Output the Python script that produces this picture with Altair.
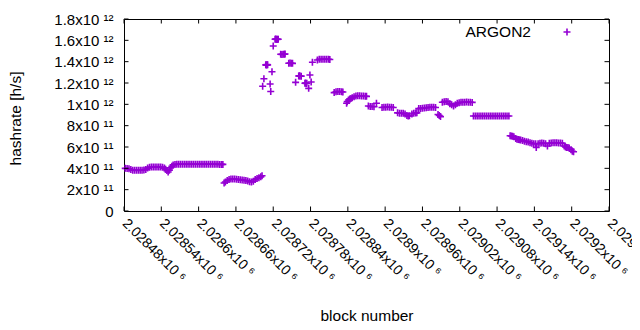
import altair as alt
import pandas as pd

# ---------------- data ----------------
BLOCK_BASE = 2028480
SERIES = ["ARGON2"]

BLOCK_OFFSETS = [
    2, 5, 8, 11, 14, 17, 20, 23, 26, 29, 32, 35,
    38, 41, 44, 47, 50, 53, 56, 59, 62, 65, 67, 69,
    71, 73, 75, 77, 79, 82, 85, 88, 91, 94, 97, 100,
    103, 106, 109, 112, 115, 118, 121, 124, 127, 130, 133, 136,
    139, 142, 145, 148, 151, 154, 157, 159,
    161, 163, 166, 169, 172, 175, 178, 181, 184, 187, 190,
    193, 196, 199, 202, 205, 208, 211, 214, 217, 220, 222,
    223, 225, 228, 229, 230, 231, 235, 236, 238, 240,
    243, 244, 245, 246, 247, 248, 252, 254, 256, 258, 259,
    265, 267, 269, 271, 276, 281, 282, 283, 285,
    291, 292, 293, 294, 297, 299, 301, 303,
    311, 314, 317, 320, 323, 326, 329, 331,
    338, 341, 344, 347, 350, 352,
    358, 359, 361, 363, 365, 367,
    370, 373, 376, 379, 382, 385, 388, 390,
    393, 396, 399, 402, 406,
    415, 418, 421, 424, 427, 430, 433,
    440, 443, 446, 449, 452, 455, 457, 459, 463, 466, 469, 471,
    474, 477, 480, 483, 486, 489, 492, 495, 498, 501,
    505, 507, 509,
    512, 515, 518, 521, 524, 527, 530, 533,
    536, 539, 542, 545, 548, 551, 554, 557, 560,
    562, 565, 568, 571, 574, 577, 580, 583, 586, 589,
    592, 595, 598, 601, 604, 607, 610, 613, 616, 619,
    621, 623, 625, 627, 630, 632, 634, 636, 638,
    641, 644, 647, 650, 653, 656, 659, 662, 663,
    666, 669, 672, 675, 678, 681, 684, 687, 690,
    693, 696, 699, 702, 705, 708, 710, 712, 714,
    716, 719, 721, 723,
]

# hashrate in units of 1e11 h/s
HASHRATE_E11 = [
    4.00, 3.98, 3.95, 3.88, 3.83, 3.82, 3.81, 3.82, 3.83, 3.82, 3.84, 3.88,
    4.02, 4.10, 4.12, 4.12, 4.13, 4.12, 4.12, 4.12, 4.10, 4.02, 3.92, 3.80,
    3.65, 3.82, 4.05, 4.20, 4.32, 4.37, 4.38, 4.38, 4.39, 4.38, 4.38, 4.39,
    4.38, 4.38, 4.39, 4.38, 4.38, 4.39, 4.38, 4.38, 4.39, 4.38, 4.38, 4.39,
    4.38, 4.38, 4.39, 4.38, 4.38, 4.37, 4.37, 4.37,
    2.62, 2.72, 2.85, 2.95, 3.00, 3.00, 3.00, 2.98, 2.95, 2.92, 2.90,
    2.88, 2.86, 2.82, 2.75, 2.72, 2.80, 2.95, 3.05, 3.12, 3.20, 3.30,
    11.70, 12.40, 13.70, 13.68, 13.72, 13.70, 11.90, 11.20, 13.06, 15.47,
    16.10, 16.12, 16.10, 16.08, 16.10, 16.10, 14.70, 14.68, 14.70, 14.70, 14.72,
    13.85, 13.87, 13.85, 13.84, 12.06, 12.66, 12.68, 12.66, 12.64,
    11.97, 11.99, 11.96, 11.97, 11.50, 12.75, 12.10, 13.94,
    14.15, 14.22, 14.22, 14.22, 14.22, 14.22, 14.22, 14.20,
    11.10, 11.18, 11.20, 11.20, 11.18, 11.15,
    10.10, 10.25, 10.40, 10.50, 10.55, 10.62,
    10.70, 10.78, 10.80, 10.80, 10.78, 10.78, 10.76, 10.75,
    9.85, 9.80, 9.80, 9.78, 10.10,
    9.70, 9.72, 9.72, 9.74, 9.72, 9.72, 9.70,
    9.20, 9.16, 9.16, 9.16, 9.10, 8.95, 8.90, 8.92, 9.10, 9.16, 9.18, 9.20,
    9.60, 9.62, 9.63, 9.65, 9.68, 9.70, 9.72, 9.72, 9.72, 9.70,
    9.05, 8.95, 8.85,
    10.20, 10.25, 10.27, 10.25, 10.05, 9.95, 9.85, 9.95,
    10.10, 10.15, 10.20, 10.20, 10.20, 10.22, 10.20, 10.20, 10.18,
    8.90, 8.90, 8.90, 8.90, 8.90, 8.90, 8.90, 8.90, 8.90, 8.90,
    8.90, 8.90, 8.90, 8.90, 8.90, 8.90, 8.90, 8.90, 8.90, 8.90,
    7.05, 7.03, 7.00, 6.95, 6.80, 6.72, 6.70, 6.68, 6.65,
    6.60, 6.55, 6.50, 6.48, 6.40, 6.35, 6.30, 6.30, 5.95,
    6.30, 6.35, 6.38, 6.35, 6.30, 6.10, 6.35, 6.38, 6.40,
    6.40, 6.40, 6.38, 6.38, 6.35, 6.10, 6.00, 5.95, 5.95,
    5.90, 5.75, 5.60, 5.55,
]

X_TICKS = [2028480, 2028540, 2028600, 2028660, 2028720, 2028780, 2028840,
           2028900, 2028960, 2029020, 2029080, 2029140, 2029200, 2029260]
X_TICK_LABELS = ["2.02848x10 ⁶", "2.02854x10 ⁶", "2.0286x10 ⁶", "2.02866x10 ⁶",
                 "2.02872x10 ⁶", "2.02878x10 ⁶", "2.02884x10 ⁶", "2.0289x10 ⁶",
                 "2.02896x10 ⁶", "2.02902x10 ⁶", "2.02908x10 ⁶", "2.02914x10 ⁶",
                 "2.0292x10 ⁶", "2.02926x10 ⁶"]

Y_TICKS = [0, 200000000000, 400000000000, 600000000000, 800000000000,
           1000000000000, 1200000000000, 1400000000000, 1600000000000,
           1800000000000]
Y_TICK_LABELS = ["0", "2x10 ¹¹", "4x10 ¹¹", "6x10 ¹¹", "8x10 ¹¹", "1x10 ¹²",
                 "1.2x10 ¹²", "1.4x10 ¹²", "1.6x10 ¹²", "1.8x10 ¹²"]

# ---------------- build ----------------
assert len(BLOCK_OFFSETS) == len(HASHRATE_E11)
df = pd.DataFrame({
    "block": [BLOCK_BASE + o for o in BLOCK_OFFSETS],
    "hashrate": [v * 1e11 for v in HASHRATE_E11],
    "series": SERIES[0],
})


def label_expr(values, labels):
    s = ""
    for v, l in zip(values, labels):
        s += f"datum.value == {v} ? '{l}' : "
    return s + "''"


FONT = "Liberation Sans"
COLOR = "#9400d3"
W, H = 485, 192
PLUS = "M-1,0L1,0M0,-1L0,1"

xscale = alt.Scale(domain=[X_TICKS[0], X_TICKS[-1]], nice=False, zero=False)
yscale = alt.Scale(domain=[Y_TICKS[0], Y_TICKS[-1]], nice=False, zero=False)

x_axis = alt.Axis(values=X_TICKS, labelExpr=label_expr(X_TICKS, X_TICK_LABELS),
                  labelAngle=45, labelAlign="left", labelBaseline="middle",
                  labelPadding=10, labelOffset=0, tickSize=0, domain=False, grid=False,
                  labelFont=FONT, labelFontSize=14, labelColor="black",
                  labelOverlap=False, labelBound=False, labelFlush=False,
                  title="block number", titleFont=FONT, titleFontSize=15.5,
                  titleFontWeight="normal", titleColor="black",
                  titleX=W / 2, titleY=109, titleBaseline="alphabetic",
                  titleAnchor="middle")
y_axis = alt.Axis(values=Y_TICKS, labelExpr=label_expr(Y_TICKS, Y_TICK_LABELS),
                  labelPadding=11, tickSize=0, domain=False, grid=False,
                  labelFont=FONT, labelFontSize=15, labelColor="black",
                  labelOverlap=False, labelBound=False, labelFlush=False,
                  title="hashrate [h/s]", titleFont=FONT, titleFontSize=15.5,
                  titleFontWeight="normal", titleColor="black",
                  titleX=-109, titleY=99, titleBaseline="middle", titleAngle=270,
                  titleAlign="center")

MARK = dict(shape=PLUS, size=49, filled=False, strokeWidth=1.6, color=COLOR, opacity=1)

points = alt.Chart(df).mark_point(**MARK).encode(
    x=alt.X("block:Q", scale=xscale, axis=x_axis),
    y=alt.Y("hashrate:Q", scale=yscale, axis=y_axis),
)

ydf = pd.DataFrame({"hashrate": Y_TICKS})
xdf = pd.DataFrame({"block": X_TICKS})
TL = 4.5
ytick_l = alt.Chart(ydf).mark_rule(color="black", strokeWidth=1).encode(
    y=alt.Y("hashrate:Q", scale=yscale, axis=y_axis), x=alt.value(0), x2=alt.value(TL))
ytick_r = alt.Chart(ydf).mark_rule(color="black", strokeWidth=1).encode(
    y=alt.Y("hashrate:Q", scale=yscale, axis=y_axis), x=alt.value(W - TL), x2=alt.value(W))
xtick_b = alt.Chart(xdf).mark_rule(color="black", strokeWidth=1).encode(
    x=alt.X("block:Q", scale=xscale, axis=x_axis), y=alt.value(H - TL), y2=alt.value(H))
xtick_t = alt.Chart(xdf).mark_rule(color="black", strokeWidth=1).encode(
    x=alt.X("block:Q", scale=xscale, axis=x_axis), y=alt.value(0), y2=alt.value(TL))

kdf = pd.DataFrame({"series": SERIES})
key_text = alt.Chart(kdf).mark_text(
    align="right", baseline="middle", font=FONT, fontSize=15.5, color="black"
).encode(text="series:N", x=alt.value(407), y=alt.value(13))
key_sym = alt.Chart(kdf).mark_point(**MARK).encode(x=alt.value(443), y=alt.value(13))

chart = alt.layer(
    points, ytick_l, ytick_r, xtick_b, xtick_t, key_text, key_sym
).properties(
    width=W, height=H,
    autosize=alt.AutoSizeParams(type="none"),
    padding={"left": 116, "top": 11, "right": 23, "bottom": 111},
    background="white",
).configure_view(stroke="black", strokeWidth=1)

chart.save("out.html", embed_options={"renderer": "svg", "actions": False})
